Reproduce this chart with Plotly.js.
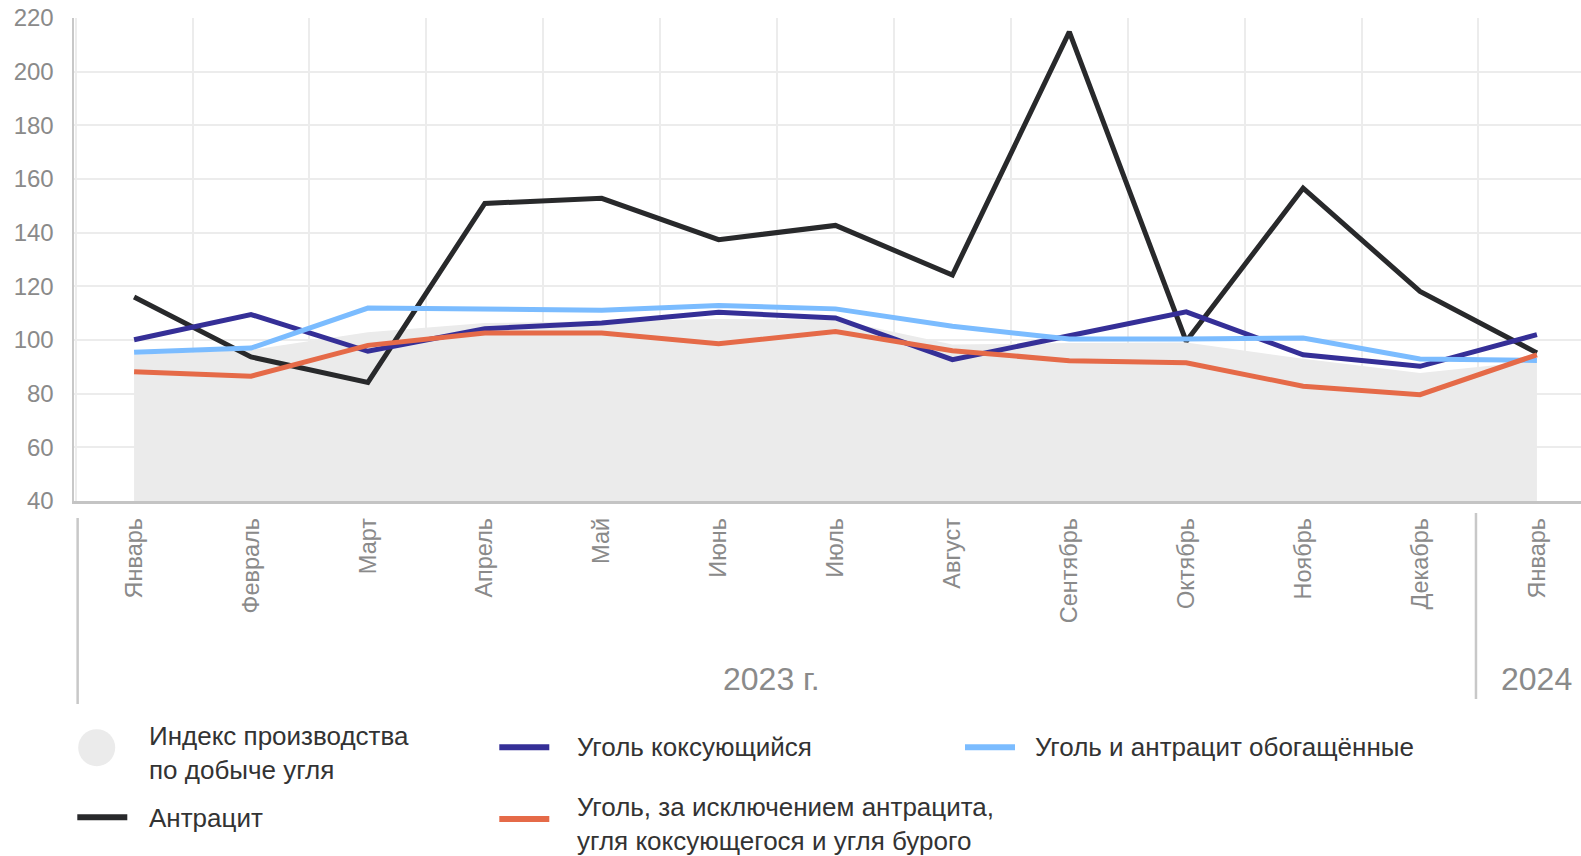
<!DOCTYPE html>
<html>
<head>
<meta charset="utf-8">
<script src="https://cdn.plot.ly/plotly-3.0.1.min.js"></script>
<style>html,body{margin:0;padding:0;background:#fff;}#chart{width:1581px;height:856px;}</style>
</head>
<body>
<div id="chart"></div>
<script>
// ---------- data ----------
const months = ['Январь','Февраль','Март','Апрель','Май','Июнь','Июль','Август','Сентябрь','Октябрь','Ноябрь','Декабрь','Январь'];
const periodYear = ['2023 г.','2023 г.','2023 г.','2023 г.','2023 г.','2023 г.','2023 г.','2023 г.','2023 г.','2023 г.','2023 г.','2023 г.','2024'];

const seriesNames = [
  'Индекс производства<br>по добыче угля',
  'Антрацит',
  'Уголь коксующийся',
  'Уголь и антрацит обогащённые',
  'Уголь, за исключением антрацита,<br>угля коксующегося и угля бурого'
];
const indexCoal  = [94.5, 96.3, 102.9, 106.3, 107.0, 107.8, 107.6, 98.3, 98.9, 99.1, 93.0, 87.7, 92.2];
const anthracite = [116.0, 93.7, 84.2, 150.9, 152.8, 137.4, 142.7, 124.2, 214.8, 99.5, 156.6, 118.1, 95.2];
const cokingCoal = [100.1, 109.5, 95.8, 104.2, 106.3, 110.3, 108.2, 92.7, 101.6, 110.5, 94.5, 90.2, 102.0];
const enriched   = [95.4, 97.0, 111.9, 111.3, 111.1, 112.9, 111.6, 105.1, 100.4, 100.4, 100.7, 92.9, 92.4];
const otherCoal  = [88.2, 86.5, 98.0, 102.6, 102.6, 98.6, 103.2, 96.0, 92.3, 91.5, 82.8, 79.6, 94.5];

// ---------- styles ----------
const colors = ['#ebebeb', '#28292b', '#352f97', '#7bbcff', '#e56a48'];
const FONT = 'Liberation Sans, Arial, Helvetica, sans-serif';
const W = 1581, H = 856, L = 74, R = 0, T = 18, B = 355;
const plotW = W - L - R, plotH = H - T - B;
const px = x => (x - L) / plotW;          // pixel -> paper x
const py = y => (H - B - y) / plotH;      // pixel -> paper y

const idx = months.map((m, i) => i);
const boundaries = idx.map(i => i - 0.5).concat([idx[idx.length - 1] + 0.5]);

// ---------- traces ----------
const traces = [
  {x: idx, y: indexCoal, name: seriesNames[0], type: 'scatter', mode: 'lines',
   line: {width: 0, color: colors[0]}, fill: 'tozeroy', fillcolor: colors[0], hoverinfo: 'skip'},
  {x: idx, y: anthracite, name: seriesNames[1], type: 'scatter', mode: 'lines',
   line: {width: 5, color: colors[1]}},
  {x: idx, y: cokingCoal, name: seriesNames[2], type: 'scatter', mode: 'lines',
   line: {width: 5, color: colors[2]}},
  {x: idx, y: enriched, name: seriesNames[3], type: 'scatter', mode: 'lines',
   line: {width: 5, color: colors[3]}},
  {x: idx, y: otherCoal, name: seriesNames[4], type: 'scatter', mode: 'lines',
   line: {width: 5, color: colors[4]}}
];

// ---------- year groups ----------
const groups = [];
periodYear.forEach((g, i) => {
  const last = groups[groups.length - 1];
  if (last && last.label === g) { last.end = i; } else { groups.push({label: g, start: i, end: i}); }
});

const shapes = [];
const annotations = [];
groups.forEach((g, k) => {
  annotations.push({
    text: g.label, xref: 'x', yref: 'paper', x: (g.start + g.end) / 2 - (k === 0 ? 0.05 : 0), y: py(679),
    xanchor: 'center', yanchor: 'middle', showarrow: false,
    font: {family: FONT, size: 32, color: '#8a8a8a'}
  });
  const off = k === 0 ? 2 : -2.5;
  shapes.push({
    type: 'line', xref: 'x', yref: 'paper', xsizemode: 'pixel', xanchor: g.start - 0.5,
    x0: off, x1: off,
    y0: py(k === 0 ? 518 : 513), y1: py(k === 0 ? 704 : 699), line: {color: '#c8c8c8', width: 2.5}
  });
});

// ---------- custom legend ----------
const legendItems = [
  {t: 0, sym: 'circle', sx: 96.7, sy: 747.7, tx: 148, ty: 753},
  {t: 1, sym: 'line', sx: 77.3, sy: 817.3, tx: 148, ty: 818},
  {t: 2, sym: 'line', sx: 499.3, sy: 747.2, tx: 576, ty: 747},
  {t: 4, sym: 'line', sx: 499.3, sy: 818.9, tx: 576, ty: 824},
  {t: 3, sym: 'line', sx: 965, sy: 747.2, tx: 1034, ty: 747}
];
legendItems.forEach(it => {
  if (it.sym === 'circle') {
    shapes.push({type: 'circle', xref: 'paper', yref: 'paper', xsizemode: 'pixel', ysizemode: 'pixel',
      xanchor: px(it.sx), yanchor: py(it.sy), x0: -18.5, x1: 18.5, y0: -18.5, y1: 18.5,
      fillcolor: colors[it.t], line: {width: 0}});
  } else {
    shapes.push({type: 'line', xref: 'paper', yref: 'paper', x0: px(it.sx), x1: px(it.sx + 50),
      y0: py(it.sy), y1: py(it.sy), line: {color: colors[it.t], width: 6}});
  }
  annotations.push({
    text: seriesNames[it.t], xref: 'paper', yref: 'paper', x: px(it.tx), y: py(it.ty),
    xanchor: 'left', yanchor: 'middle', align: 'left', showarrow: false, borderpad: 0,
    font: {family: FONT, size: 26, color: '#333333'}
  });
});

const layout = {
  width: W, height: H,
  margin: {l: L, r: R, t: T, b: B, pad: 0},
  paper_bgcolor: '#ffffff', plot_bgcolor: '#ffffff',
  showlegend: false,
  font: {family: FONT, color: '#8a8a8a'},
  xaxis: {
    range: [-0.514, 12.377], tickmode: 'array', tickvals: idx, ticktext: months,
    tickangle: -90, tickfont: {family: FONT, size: 23.5, color: '#8a8a8a'},
    showgrid: false, zeroline: false, showline: true, linecolor: '#c4c4c4', linewidth: 2.5,
    ticks: '', ticklabelstandoff: 5,
    minor: {tickmode: 'array', tickvals: boundaries, showgrid: true, gridcolor: '#ececec', gridwidth: 2, ticks: ''},
    fixedrange: true
  },
  yaxis: {
    range: [40, 220], tick0: 40, dtick: 20, tickfont: {family: FONT, size: 24, color: '#8a8a8a'},
    showgrid: true, gridcolor: '#ececec', gridwidth: 2, zeroline: false,
    showline: true, linecolor: '#c8c8c8', linewidth: 2.5, ticks: '', ticklabelstandoff: 13,
    fixedrange: true
  },
  shapes: shapes,
  annotations: annotations
};

Plotly.newPlot('chart', traces, layout, {staticPlot: true, displayModeBar: false});
</script>
</body>
</html>
